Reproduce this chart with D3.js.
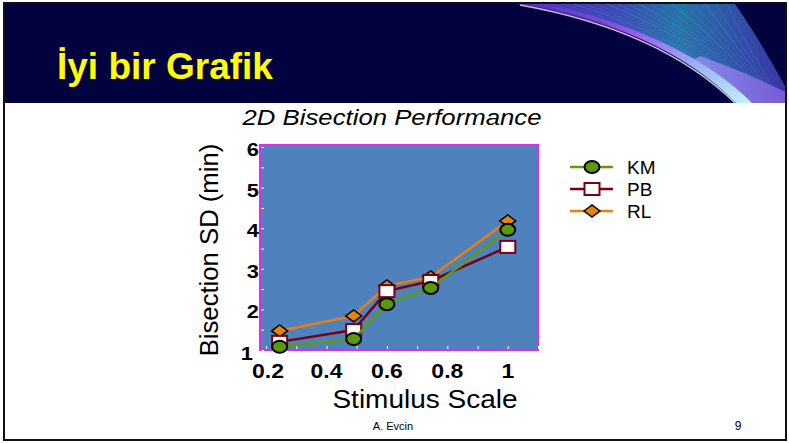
<!DOCTYPE html>
<html>
<head>
<meta charset="utf-8">
<script src="https://cdn.jsdelivr.net/npm/d3@7"></script>
<style>
  body { margin: 0; background: #fff; }
  svg text { font-family: "Liberation Sans", Arial, sans-serif; }
</style>
</head>
<body>
<div id="slide"></div>
<script>
// chart data
var scaleValues = [0.245, 0.49, 0.6, 0.745, 1.0];
var kmValues = [1.08, 1.27, 2.13, 2.53, 3.96];
var pbValues = [1.2, 1.49, 2.45, 2.7, 3.54];
var rlValues = [1.47, 1.84, 2.58, 2.8, 4.18];
var seriesNames = ["KM", "PB", "RL"];
var xTickValues = [0.2, 0.4, 0.6, 0.8, 1];
var yTickValues = [1, 2, 3, 4, 5, 6];

var svgWidth = 789;
var svgHeight = 443;

// the chart in the slide is stretched a bit sideways
var stretch = 1.15;

var svg = d3.select("#slide")
    .append("svg")
    .attr("width", svgWidth)
    .attr("height", svgHeight);

// slide header
svg.append("rect")
    .attr("x", 4).attr("y", 3)
    .attr("width", 782).attr("height", 100)
    .attr("fill", "#02023e");

var defs = svg.append("defs");
var grad = defs.append("linearGradient")
    .attr("id", "swoosh")
    .attr("x1", "0%").attr("y1", "0%")
    .attr("x2", "100%").attr("y2", "100%");
grad.append("stop").attr("offset", "0%").attr("stop-color", "#5a2bd0").attr("stop-opacity", 0.4);
grad.append("stop").attr("offset", "40%").attr("stop-color", "#9a5cf0");
grad.append("stop").attr("offset", "70%").attr("stop-color", "#9ab4f4");
grad.append("stop").attr("offset", "100%").attr("stop-color", "#c0f4ff");

var fan = defs.append("linearGradient")
    .attr("id", "fan")
    .attr("x1", "0%").attr("y1", "0%")
    .attr("x2", "100%").attr("y2", "0%");
fan.append("stop").attr("offset", "0%").attr("stop-color", "#6a3ae0").attr("stop-opacity", 0.7);
fan.append("stop").attr("offset", "35%").attr("stop-color", "#4a5ad0").attr("stop-opacity", 0.8);
fan.append("stop").attr("offset", "60%").attr("stop-color", "#2a8ab8").attr("stop-opacity", 0.85);
fan.append("stop").attr("offset", "100%").attr("stop-color", "#4a48c8").attr("stop-opacity", 0.75);

var band = defs.append("linearGradient")
    .attr("id", "band")
    .attr("x1", "0%").attr("y1", "0%")
    .attr("x2", "100%").attr("y2", "0%");
band.append("stop").attr("offset", "0%").attr("stop-color", "#8a90f0").attr("stop-opacity", 0.9);
band.append("stop").attr("offset", "100%").attr("stop-color", "#8a60e0").attr("stop-opacity", 0.8);

var header = svg.append("g");

// fan of light above the arc
header.append("path")
    .attr("d", "M520,4 Q665,26 745,103 L786,103 L786,88 Q760,40 735,4 Z")
    .attr("fill", "url(#fan)");

for (var i = 0; i < 18; i++) {
    header.append("path")
        .attr("d", `M${540 + i * 11},4 Q${680 + i * 4},${36 + i} ${742 + i * 2.5},103`)
        .attr("fill", "none")
        .attr("stroke", i % 3 ? "#7a70f0" : "#50c0e8")
        .attr("stroke-opacity", 0.3)
        .attr("stroke-width", 1);
}

// lavender band near the lower right
header.append("path")
    .attr("d", "M690,62 Q730,85 752,103 L786,103 L786,92 Q740,70 700,56 Z")
    .attr("fill", "url(#band)");

// bright arc
header.append("path")
    .attr("d", "M515,4 Q660,26 736,103 L752,103 Q685,36 548,4 Z")
    .attr("fill", "url(#swoosh)");
header.append("path")
    .attr("d", "M520,5 Q660,30 735,103")
    .attr("fill", "none")
    .attr("stroke", "#f0d8ff")
    .attr("stroke-opacity", 0.85)
    .attr("stroke-width", 1.5);

svg.append("text")
    .attr("x", 57).attr("y", 79)
    .style("font-family", "'Liberation Sans Narrow', 'Liberation Sans', Arial, sans-serif")
    .style("font-weight", "bold")
    .style("font-size", "37px")
    .attr("fill", "#ffff00")
    .text("İyi bir Grafik");

// slide frame
svg.append("rect")
    .attr("x", 4).attr("y", 3)
    .attr("width", 782).attr("height", 437)
    .attr("fill", "none")
    .attr("stroke", "#111")
    .attr("stroke-width", 2);

// plot area
var plot = { left: 260, right: 538, top: 145, bottom: 350 };

var xScale = d3.scaleLinear()
    .domain([0.18, 1.1])
    .range([plot.left, plot.right]);

var yScale = d3.scaleLinear()
    .domain([1, 6.05])
    .range([plot.bottom, plot.top]);

svg.append("rect")
    .attr("x", plot.left).attr("y", plot.top)
    .attr("width", plot.right - plot.left)
    .attr("height", plot.bottom - plot.top)
    .attr("fill", "#4f81bd")
    .attr("stroke", "#e628e6")
    .attr("stroke-width", 2);

// axes (white ticks inside plot)
var bottomAxis = d3.axisBottom(xScale)
    .tickValues(d3.range(0.2, 1.11, 0.1))
    .tickSize(-3)
    .tickFormat("");
svg.append("g")
    .attr("transform", `translate(0, ${plot.bottom - 1})`)
    .call(bottomAxis)
    .call(g => g.select(".domain").remove())
    .call(g => g.selectAll("line").attr("stroke", "#fff"));

var leftAxis = d3.axisLeft(yScale)
    .tickValues(d3.range(1, 6.01, 0.5))
    .tickSize(-3)
    .tickFormat("");
svg.append("g")
    .attr("transform", `translate(${plot.left + 1}, 0)`)
    .call(leftAxis)
    .call(g => g.select(".domain").remove())
    .call(g => g.selectAll("line").attr("stroke", "#fff"));

// tick labels
svg.selectAll(".xlab")
    .data(xTickValues)
    .enter()
    .append("text")
    .attr("class", "xlab")
    .attr("transform", d => `translate(${xScale(d) + (d === 0.2 ? 2 : 0)}, ${plot.bottom + 28}) scale(${stretch}, 1)`)
    .attr("text-anchor", "middle")
    .style("font-size", "20px")
    .style("font-weight", "bold")
    .text(d => d);

svg.selectAll(".ylab")
    .data(yTickValues)
    .enter()
    .append("text")
    .attr("class", "ylab")
    .attr("transform", d => `translate(${d === 1 ? 253 : 259}, ${yScale(d) + (d === 1 ? 10 : 9)}) scale(${stretch}, 1)`)
    .attr("text-anchor", "end")
    .style("font-size", "19px")
    .style("font-weight", "bold")
    .text(d => d);

// titles
svg.append("text")
    .attr("transform", `translate(392, 125) scale(1.17, 1)`)
    .attr("text-anchor", "middle")
    .style("font-size", "22px")
    .style("font-style", "italic")
    .text("2D Bisection Performance");

svg.append("text")
    .attr("transform", `translate(425, 408) scale(1.12, 1)`)
    .attr("text-anchor", "middle")
    .style("font-size", "25px")
    .text("Stimulus Scale");

svg.append("text")
    .attr("transform", "translate(218, 250) rotate(-90) scale(1.07, 1.08)")
    .attr("text-anchor", "middle")
    .style("font-size", "24px")
    .text("Bisection SD (min)");

// series
var seriesData = [
    { name: seriesNames[0], values: kmValues, line: "#5f9a12", fill: "#5a9a08", stroke: "#000", shape: "circle" },
    { name: seriesNames[1], values: pbValues, line: "#7a0010", fill: "#fff", stroke: "#7a0010", shape: "square" },
    { name: seriesNames[2], values: rlValues, line: "#e8820e", fill: "#e8820e", stroke: "#000", shape: "diamond" }
];

var lineMaker = d3.line()
    .x(d => xScale(d[0]))
    .y(d => yScale(d[1]));

function drawMarker(g, s, cx, cy) {
    if (s.shape === "circle") {
        g.append("ellipse")
            .attr("cx", cx).attr("cy", cy)
            .attr("rx", 7.5).attr("ry", 6)
            .attr("fill", s.fill).attr("stroke", s.stroke).attr("stroke-width", 2);
    } else if (s.shape === "square") {
        g.append("rect")
            .attr("x", cx - 7.5).attr("y", cy - 6)
            .attr("width", 15).attr("height", 12)
            .attr("fill", s.fill).attr("stroke", s.stroke).attr("stroke-width", 2);
    } else {
        g.append("path")
            .attr("d", `M${cx - 8},${cy} L${cx},${cy - 6} L${cx + 8},${cy} L${cx},${cy + 6} Z`)
            .attr("fill", s.fill).attr("stroke", s.stroke).attr("stroke-width", 1.5);
    }
}

// draw order: RL, PB, KM (KM on top)
[2, 1, 0].forEach(function(k) {
    var s = seriesData[k];
    var pts = scaleValues.map((x, i) => [x, s.values[i]]);
    var g = svg.append("g");
    g.append("path")
        .attr("d", lineMaker(pts))
        .attr("fill", "none")
        .attr("stroke", s.line)
        .attr("stroke-width", 2.5);
    pts.forEach(p => drawMarker(g, s, xScale(p[0]), yScale(p[1])));
});

// legend
var legend = svg.append("g");
seriesData.forEach(function(s, i) {
    var ly = 167 + i * 22;
    legend.append("line")
        .attr("x1", 570).attr("x2", 613)
        .attr("y1", ly).attr("y2", ly)
        .attr("stroke", s.line)
        .attr("stroke-width", 2.5);
    drawMarker(legend, s, 592, ly);
    legend.append("text")
        .attr("x", 627).attr("y", ly + 7)
        .style("font-size", "19px")
        .text(s.name);
});

// footer
svg.append("text")
    .attr("x", 393).attr("y", 430)
    .attr("text-anchor", "middle")
    .style("font-size", "11px")
    .text("A. Evcin");

svg.append("text")
    .attr("x", 738).attr("y", 430)
    .attr("text-anchor", "middle")
    .style("font-size", "12px")
    .text("9");
</script>
</body>
</html>
